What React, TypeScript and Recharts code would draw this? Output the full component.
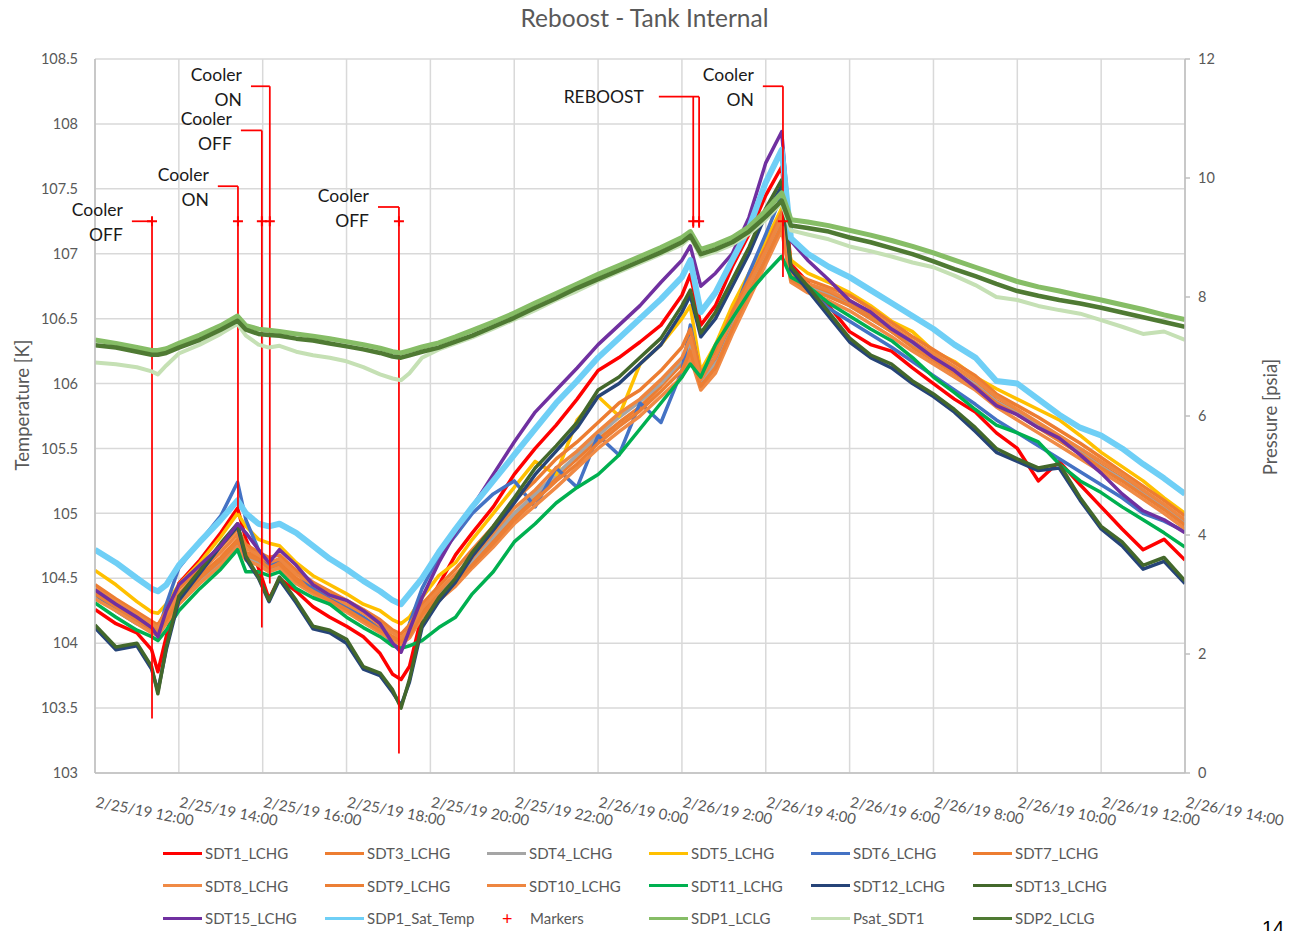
import React from "react";
import {
  ComposedChart,
  Line,
  Scatter,
  ErrorBar,
  XAxis,
  YAxis,
  CartesianGrid,
  ReferenceLine,
  ReferenceDot,
} from "recharts";

// hours after 2/25/19 12:00
const times = [
  0, 0.5, 1.0, 1.35, 1.5, 1.7, 2.0, 2.5,
  3.0, 3.4, 3.6, 3.9, 4.15, 4.4, 4.8, 5.2,
  5.6, 6.0, 6.4, 6.8, 7.1, 7.3, 7.5, 7.8,
  8.2, 8.6, 9.0, 9.5, 10.0, 10.5, 11.0, 11.5,
  12.0, 12.5, 13.0, 13.5, 14.0, 14.2, 14.45, 14.8,
  15.2, 15.6, 16.0, 16.38, 16.6, 17.0, 17.5, 18.0,
  18.5, 19.0, 19.5, 20.0, 20.5, 21.0, 21.5, 22.0,
  22.5, 23.0, 23.5, 24.0, 24.5, 25.0, 25.5, 26.0,
];

// temperatures [K]
const sdt1 = [
  104.26, 104.15, 104.08, 103.95, 103.78, 104.05, 104.46, 104.64,
  104.85, 105.04, 104.8, 104.58, 104.34, 104.5, 104.4, 104.28,
  104.2, 104.13, 104.05, 103.92, 103.76, 103.72, 103.82, 104.22,
  104.45, 104.68, 104.85, 105.05, 105.3, 105.5, 105.68, 105.88,
  106.1, 106.2, 106.32, 106.45, 106.68, 106.84, 106.45, 106.6,
  106.9, 107.15, 107.45, 107.67, 106.92, 106.78, 106.6, 106.4,
  106.3, 106.25, 106.12, 106.0, 105.88, 105.78, 105.62, 105.5,
  105.25, 105.4, 105.22, 105.05, 104.88, 104.72, 104.8, 104.64,
];
const sdt3 = [
  104.4, 104.3, 104.2, 104.13, 104.1, 104.2, 104.36, 104.52,
  104.66, 104.8, 104.7, 104.66, 104.6, 104.63, 104.5, 104.42,
  104.35, 104.28, 104.2, 104.12, 104.05, 104.02, 104.08, 104.25,
  104.38, 104.5, 104.62, 104.8, 104.98, 105.12, 105.28, 105.42,
  105.57, 105.7, 105.82, 105.98, 106.15, 106.3, 106.0, 106.15,
  106.45, 106.72, 107.0, 107.25, 106.82, 106.75, 106.7, 106.62,
  106.52, 106.42, 106.3, 106.2, 106.1, 106.0, 105.87, 105.78,
  105.68, 105.58, 105.48, 105.37, 105.27, 105.16, 105.05, 104.93,
];
const sdt4 = [
  104.36, 104.26, 104.16, 104.1, 104.08, 104.17, 104.32, 104.48,
  104.62, 104.76, 104.66, 104.62, 104.56, 104.6, 104.47, 104.39,
  104.31, 104.25, 104.17, 104.09, 104.03, 104.0, 104.05, 104.21,
  104.36, 104.5, 104.64, 104.82, 105.0, 105.15, 105.3, 105.45,
  105.6, 105.74, 105.86, 106.0, 106.18, 106.32, 106.02, 106.16,
  106.46, 106.74, 107.0, 107.26, 106.82, 106.74, 106.68, 106.6,
  106.5, 106.4, 106.3, 106.19, 106.09, 105.99, 105.86, 105.77,
  105.67, 105.57, 105.47, 105.36, 105.26, 105.15, 105.04, 104.92,
];
const sdt5 = [
  104.56, 104.45, 104.32, 104.24, 104.23, 104.3, 104.45, 104.62,
  104.82, 105.0, 104.9, 104.8, 104.77, 104.75, 104.62, 104.52,
  104.45, 104.38, 104.3, 104.25, 104.18, 104.15, 104.2, 104.35,
  104.52, 104.62, 104.8, 105.0, 105.2, 105.4, 105.3, 105.72,
  105.9, 105.75, 106.15, 106.3, 106.5, 106.6, 106.1, 106.3,
  106.6, 106.85, 107.1, 107.35, 106.95, 106.85, 106.78, 106.7,
  106.6, 106.48, 106.4, 106.25, 106.17, 106.05, 105.96, 105.88,
  105.8, 105.72, 105.6, 105.47, 105.36, 105.25, 105.12, 105.0,
];
const sdt6 = [
  104.38, 104.25, 104.15, 104.1, 104.08, 104.3, 104.58, 104.78,
  104.98, 105.24, 104.95, 104.72, 104.6, 104.65, 104.55, 104.42,
  104.35, 104.28, 104.2, 104.1, 104.0, 103.95, 104.15, 104.42,
  104.67, 104.83, 105.0, 105.15, 105.25, 105.05, 105.35, 105.2,
  105.6, 105.45, 105.85, 105.7, 106.1, 106.45, 106.05, 106.2,
  106.5, 106.85, 107.15, 107.45, 106.88, 106.72, 106.58, 106.48,
  106.38, 106.28, 106.17, 106.06, 105.95, 105.84, 105.72, 105.62,
  105.52, 105.42, 105.32, 105.22, 105.12, 105.0, 104.94, 104.86,
];
const sdt7 = [
  104.45, 104.34, 104.24, 104.17, 104.14, 104.25, 104.42, 104.58,
  104.74, 104.88, 104.76, 104.7, 104.66, 104.68, 104.56, 104.47,
  104.4, 104.33, 104.26, 104.18, 104.1, 104.07, 104.14, 104.3,
  104.44, 104.57, 104.72, 104.9, 105.1, 105.25, 105.42, 105.55,
  105.7, 105.85, 105.95, 106.1, 106.28, 106.42, 106.08, 106.25,
  106.55, 106.8, 107.05, 107.32, 106.86, 106.8, 106.74, 106.68,
  106.58, 106.47, 106.36, 106.26, 106.16, 106.06, 105.92, 105.83,
  105.74, 105.64, 105.54, 105.43, 105.32, 105.21, 105.1, 104.98,
];
const sdt8 = [
  104.34, 104.25, 104.15, 104.08, 104.06, 104.15, 104.3, 104.46,
  104.6, 104.74, 104.64, 104.6, 104.55, 104.58, 104.46, 104.38,
  104.3, 104.24, 104.16, 104.08, 104.02, 103.99, 104.04, 104.2,
  104.33, 104.44, 104.58, 104.74, 104.92, 105.06, 105.2, 105.35,
  105.5, 105.63, 105.75, 105.9, 106.05, 106.2, 105.95, 106.08,
  106.38, 106.65, 106.92, 107.18, 106.78, 106.7, 106.64, 106.56,
  106.46, 106.36, 106.25, 106.15, 106.05, 105.95, 105.82, 105.72,
  105.62, 105.52, 105.42, 105.32, 105.22, 105.11, 105.0, 104.88,
];
const sdt9 = [
  104.38, 104.28, 104.18, 104.11, 104.09, 104.18, 104.34, 104.5,
  104.64, 104.78, 104.68, 104.64, 104.58, 104.61, 104.48, 104.4,
  104.33, 104.26, 104.18, 104.1, 104.04, 104.01, 104.06, 104.22,
  104.36, 104.48, 104.6, 104.77, 104.95, 105.1, 105.25, 105.38,
  105.54, 105.67, 105.79, 105.94, 106.1, 106.25, 105.98, 106.12,
  106.42, 106.7, 106.96, 107.22, 106.8, 106.73, 106.67, 106.6,
  106.5, 106.4, 106.28, 106.18, 106.08, 105.98, 105.85, 105.76,
  105.66, 105.56, 105.46, 105.35, 105.25, 105.14, 105.03, 104.91,
];
const sdt10 = [
  104.42, 104.32, 104.22, 104.15, 104.12, 104.22, 104.38, 104.55,
  104.7, 104.84, 104.73, 104.68, 104.62, 104.65, 104.53, 104.45,
  104.37, 104.3, 104.23, 104.15, 104.08, 104.04, 104.1, 104.27,
  104.41, 104.53, 104.66, 104.85, 105.04, 105.18, 105.35, 105.48,
  105.63, 105.77, 105.88, 106.03, 106.2, 106.35, 106.03, 106.2,
  106.5, 106.76, 107.02, 107.28, 106.84, 106.77, 106.72, 106.64,
  106.55, 106.44, 106.33, 106.23, 106.13, 106.03, 105.9, 105.8,
  105.7, 105.6, 105.5, 105.4, 105.3, 105.18, 105.07, 104.95,
];
const sdt11 = [
  104.31, 104.2, 104.1, 104.05, 104.02, 104.1, 104.25, 104.42,
  104.57, 104.72, 104.55, 104.55, 104.52, 104.55, 104.42, 104.35,
  104.3, 104.2, 104.12, 104.05, 103.98, 103.96, 103.98, 104.02,
  104.12, 104.2, 104.38, 104.55, 104.78, 104.92, 105.08, 105.2,
  105.3, 105.45, 105.65, 105.85, 106.05, 106.15, 106.05, 106.3,
  106.5, 106.7, 106.85, 106.98, 106.82, 106.75, 106.62, 106.52,
  106.42, 106.33, 106.2, 106.05, 105.93, 105.8, 105.68, 105.62,
  105.55, 105.38, 105.25, 105.16, 105.05, 104.95, 104.85, 104.74,
];
const sdt12 = [
  104.12, 103.95, 103.98, 103.8, 103.63, 103.95, 104.33, 104.54,
  104.75, 104.9, 104.65, 104.5, 104.32, 104.49, 104.31, 104.11,
  104.08, 104.0, 103.8, 103.75, 103.62, 103.52, 103.7, 104.12,
  104.32, 104.47, 104.67, 104.87, 105.08, 105.3, 105.48, 105.66,
  105.9, 106.0, 106.15, 106.3, 106.55, 106.68, 106.36, 106.5,
  106.75, 107.0, 107.3, 107.52, 106.88, 106.72, 106.52, 106.32,
  106.2, 106.12, 106.0, 105.9, 105.78, 105.63, 105.47, 105.4,
  105.33, 105.35, 105.1, 104.88, 104.75, 104.57, 104.63, 104.46,
];
const sdt13 = [
  104.14, 103.97, 104.0, 103.82, 103.61, 103.97, 104.36, 104.56,
  104.77, 104.92, 104.67, 104.51, 104.33, 104.51, 104.33, 104.13,
  104.1, 104.03, 103.82, 103.77, 103.64, 103.5, 103.72, 104.15,
  104.35, 104.5, 104.7, 104.9, 105.12, 105.35, 105.52, 105.7,
  105.95, 106.05, 106.2, 106.35, 106.6, 106.72, 106.39, 106.55,
  106.8, 107.05, 107.35, 107.57, 106.9, 106.75, 106.55, 106.35,
  106.22, 106.15, 106.02, 105.92, 105.8, 105.66, 105.5, 105.42,
  105.35, 105.38, 105.12, 104.9, 104.78, 104.6, 104.66, 104.48,
];
const sdt15 = [
  104.41, 104.3, 104.2, 104.12, 104.05, 104.25, 104.45, 104.6,
  104.75, 104.92, 104.85, 104.72, 104.62, 104.72, 104.6, 104.45,
  104.37, 104.33, 104.25, 104.15, 104.0, 103.93, 104.1, 104.35,
  104.62, 104.85, 105.05, 105.3, 105.55, 105.78, 105.95, 106.12,
  106.3, 106.45, 106.6, 106.78, 106.95, 107.06, 106.75, 106.85,
  107.0, 107.28, 107.7, 107.94, 107.1, 106.95, 106.8, 106.64,
  106.55, 106.42, 106.32, 106.2, 106.1, 105.97, 105.83, 105.76,
  105.66, 105.58, 105.45, 105.31, 105.15, 105.02, 104.95, 104.85,
];
const sdp1SatTemp = [
  104.72, 104.62, 104.5, 104.42, 104.4, 104.45, 104.6, 104.78,
  104.95, 105.1, 105.0, 104.92, 104.9, 104.92, 104.85, 104.75,
  104.65, 104.57, 104.48, 104.4, 104.33, 104.3, 104.38, 104.5,
  104.7, 104.88, 105.05, 105.25, 105.45, 105.65, 105.85, 106.02,
  106.2, 106.35, 106.5, 106.65, 106.82, 106.95, 106.55, 106.7,
  106.95, 107.2, 107.55, 107.8, 107.12, 107.0, 106.9, 106.82,
  106.72, 106.62, 106.52, 106.42, 106.3, 106.2, 106.02, 106.0,
  105.88, 105.76, 105.66, 105.6, 105.5, 105.38, 105.27, 105.15,
];

// pressures [psia]
const sdp1Lclg = [
  7.28, 7.22, 7.15, 7.1, 7.1, 7.13, 7.22, 7.36,
  7.52, 7.68, 7.52, 7.46, 7.44, 7.42, 7.38, 7.34,
  7.3, 7.25, 7.2, 7.14, 7.08, 7.06, 7.1, 7.16,
  7.23, 7.33, 7.44, 7.58, 7.73, 7.9, 8.06, 8.22,
  8.38, 8.53, 8.68, 8.83, 9.0, 9.1, 8.8, 8.88,
  9.0, 9.18, 9.45, 9.75, 9.3, 9.26, 9.2, 9.12,
  9.04, 8.95, 8.85, 8.74, 8.62, 8.5, 8.38, 8.26,
  8.17, 8.1, 8.02, 7.95, 7.87, 7.79, 7.7, 7.62,
];
const psatSdt1 = [
  6.9, 6.87, 6.82, 6.75, 6.7, 6.85, 7.05, 7.2,
  7.38, 7.55, 7.35, 7.2, 7.15, 7.18, 7.08, 7.02,
  6.98, 6.92, 6.82, 6.7, 6.63, 6.6, 6.72, 6.98,
  7.12, 7.22, 7.32, 7.47, 7.62, 7.78, 7.95, 8.1,
  8.27, 8.42, 8.57, 8.72, 8.88, 9.0, 8.68, 8.76,
  8.88, 9.06, 9.3, 9.58, 9.12, 9.05, 8.97, 8.85,
  8.77, 8.68, 8.58, 8.5, 8.36, 8.2, 8.0, 7.95,
  7.85, 7.78, 7.72, 7.61, 7.5, 7.38, 7.42, 7.28,
];
const sdp2Lclg = [
  7.19, 7.15, 7.08, 7.03, 7.03, 7.06, 7.15, 7.28,
  7.45, 7.6, 7.45, 7.38, 7.36, 7.35, 7.3, 7.27,
  7.22, 7.17, 7.12, 7.06, 7.0, 6.98, 7.02, 7.08,
  7.15, 7.25, 7.35, 7.5, 7.65, 7.82, 7.98, 8.15,
  8.3, 8.45, 8.6, 8.75, 8.92, 9.03, 8.72, 8.8,
  8.92, 9.1, 9.35, 9.62, 9.2, 9.16, 9.1, 9.0,
  8.92, 8.82, 8.72, 8.6, 8.47, 8.35, 8.22, 8.1,
  8.02, 7.95, 7.89, 7.82, 7.74, 7.66, 7.58, 7.5,
];

// event markers
const markerTimes = [1.36, 3.41, 3.98, 4.17, 7.25, 14.27, 14.41, 16.41];
const markerLevel = 107.25;
const markerLows = [103.42, 105.0, 104.12, 104.46, 103.15, 107.2, 107.2, 106.82];
const markerTops = [107.25, 107.52, 107.95, 108.29, 107.36, 108.21, 108.21, 108.29];

const noteTimes = [1.36, 3.41, 3.98, 4.17, 7.25, 14.41, 16.41];
const noteStarts = [0.88, 2.93, 3.48, 3.72, 6.75, 13.45, 15.93];
const noteLevels = [107.25, 107.52, 107.95, 108.29, 107.36, 108.21, 108.29];
const noteTexts = [
  ["Cooler", "OFF"],
  ["Cooler", "ON"],
  ["Cooler", "OFF"],
  ["Cooler", "ON"],
  ["Cooler", "OFF"],
  ["REBOOST"],
  ["Cooler", "ON"],
];

const timeTicks = [0, 2, 4, 6, 8, 10, 12, 14, 16, 18, 20, 22, 24, 26];
const timeLabels = [
  "2/25/19 12:00", "2/25/19 14:00", "2/25/19 16:00", "2/25/19 18:00",
  "2/25/19 20:00", "2/25/19 22:00", "2/26/19 0:00", "2/26/19 2:00",
  "2/26/19 4:00", "2/26/19 6:00", "2/26/19 8:00", "2/26/19 10:00",
  "2/26/19 12:00", "2/26/19 14:00",
];
const tempTicks = [103, 103.5, 104, 104.5, 105, 105.5, 106, 106.5, 107, 107.5, 108, 108.5];
const pressureTicks = [0, 2, 4, 6, 8, 10, 12];

const series = [
  { key: "SDT1_LCHG", values: sdt1, axis: "left" },
  { key: "SDT3_LCHG", values: sdt3, axis: "left" },
  { key: "SDT4_LCHG", values: sdt4, axis: "left" },
  { key: "SDT5_LCHG", values: sdt5, axis: "left" },
  { key: "SDT6_LCHG", values: sdt6, axis: "left" },
  { key: "SDT7_LCHG", values: sdt7, axis: "left" },
  { key: "SDT8_LCHG", values: sdt8, axis: "left" },
  { key: "SDT9_LCHG", values: sdt9, axis: "left" },
  { key: "SDT10_LCHG", values: sdt10, axis: "left" },
  { key: "SDT11_LCHG", values: sdt11, axis: "left" },
  { key: "SDT12_LCHG", values: sdt12, axis: "left" },
  { key: "SDT13_LCHG", values: sdt13, axis: "left" },
  { key: "SDT15_LCHG", values: sdt15, axis: "left" },
  { key: "SDP1_Sat_Temp", values: sdp1SatTemp, axis: "left" },
  { key: "SDP1_LCLG", values: sdp1Lclg, axis: "right" },
  { key: "Psat_SDT1", values: psatSdt1, axis: "right" },
  { key: "SDP2_LCLG", values: sdp2Lclg, axis: "right" },
];

const lineStyle: Record<string, { color: string; width: number }> = {
  SDT1_LCHG: { color: "#ff0000", width: 3.5 },
  SDT3_LCHG: { color: "#ed7d31", width: 3.5 },
  SDT4_LCHG: { color: "#a5a5a5", width: 3.5 },
  SDT5_LCHG: { color: "#ffc000", width: 3.5 },
  SDT6_LCHG: { color: "#4472c4", width: 3.5 },
  SDT7_LCHG: { color: "#ed7d31", width: 3.5 },
  SDT8_LCHG: { color: "#f08a45", width: 3.5 },
  SDT9_LCHG: { color: "#ec7f35", width: 3.5 },
  SDT10_LCHG: { color: "#ee8640", width: 3.5 },
  SDT11_LCHG: { color: "#00b050", width: 3.5 },
  SDT12_LCHG: { color: "#264478", width: 3.5 },
  SDT13_LCHG: { color: "#43682b", width: 3.5 },
  SDT15_LCHG: { color: "#7030a0", width: 3.5 },
  SDP1_Sat_Temp: { color: "#6fcff6", width: 6 },
  SDP1_LCLG: { color: "#86bd66", width: 5 },
  Psat_SDT1: { color: "#c5e0b4", width: 4 },
  SDP2_LCLG: { color: "#4f7a33", width: 4.5 },
};

const legendRows = [
  ["SDT1_LCHG", "SDT3_LCHG", "SDT4_LCHG", "SDT5_LCHG", "SDT6_LCHG", "SDT7_LCHG"],
  ["SDT8_LCHG", "SDT9_LCHG", "SDT10_LCHG", "SDT11_LCHG", "SDT12_LCHG", "SDT13_LCHG"],
  ["SDT15_LCHG", "SDP1_Sat_Temp", "Markers", "SDP1_LCLG", "Psat_SDT1", "SDP2_LCLG"],
];

const rows = times.map((t, i) => {
  const row: Record<string, number> = { t };
  series.forEach((s) => {
    row[s.key] = s.values[i];
  });
  return row;
});

const markerRows = markerTimes.map((t, i) => ({
  t,
  v: markerLevel,
  err: [markerLevel - markerLows[i], markerTops[i] - markerLevel],
}));

const FONT = "Lato, 'Open Sans', 'DejaVu Sans', sans-serif";
const GREY_TEXT = "#595959";
const RED = "#ff0000";

const TimeTick = (props: any) => {
  const { x, y, payload } = props;
  const idx = timeTicks.indexOf(payload.value);
  return (
    <text
      transform={`translate(${x},${y + 26}) rotate(11)`}
      textAnchor="start"
      fill={GREY_TEXT}
      fontSize={15}
      fontFamily={FONT}
    >
      {timeLabels[idx]}
    </text>
  );
};

const Plus = (props: any) => {
  const { cx, cy } = props;
  return (
    <path
      d={`M${cx - 5},${cy}H${cx + 5}M${cx},${cy - 5}V${cy + 5}`}
      stroke={RED}
      strokeWidth={2}
      fill="none"
    />
  );
};

const noteShape = (lines: string[]) => (props: any) => {
  const { cx, cy } = props;
  if (lines.length === 1) {
    return (
      <text x={cx - 15} y={cy + 6} textAnchor="end" fontSize={17.5} fill="#1a1a1a" fontFamily={FONT}>
        {lines[0]}
      </text>
    );
  }
  return (
    <g>
      <text x={cx - 9} y={cy - 5} textAnchor="end" fontSize={17.5} fill="#1a1a1a" fontFamily={FONT}>
        {lines[0]}
      </text>
      <text x={cx - 9} y={cy + 20} textAnchor="end" fontSize={17.5} fill="#1a1a1a" fontFamily={FONT}>
        {lines[1]}
      </text>
    </g>
  );
};

const LegendItem = ({ name, left, top }: { name: string; left: number; top: number }) => {
  if (name === "Markers") {
    return (
      <div style={{ position: "absolute", left, top, height: 18, display: "flex", alignItems: "center" }}>
        <span style={{ color: RED, fontSize: 18, width: 43, paddingLeft: 15, boxSizing: "border-box", lineHeight: "18px" }}>+</span>
        <span style={{ fontSize: 15, color: GREY_TEXT }}>{name}</span>
      </div>
    );
  }
  const st = lineStyle[name];
  return (
    <div style={{ position: "absolute", left, top, height: 18, display: "flex", alignItems: "center" }}>
      <span style={{ width: 39, height: 3, background: st.color, marginRight: 3 }} />
      <span style={{ fontSize: 15, color: GREY_TEXT }}>{name}</span>
    </div>
  );
};

export default function App() {
  return (
    <div
      style={{
        position: "absolute",
        left: 0,
        top: 0,
        width: 1300,
        height: 931,
        background: "#fff",
        fontFamily: FONT,
        overflow: "hidden",
      }}
    >
      <div
        style={{
          position: "absolute",
          left: 0,
          top: 5,
          width: 1289,
          textAlign: "center",
          fontSize: 24.5,
          lineHeight: "26px",
          color: GREY_TEXT,
        }}
      >
        Reboost - Tank Internal
      </div>

      <ComposedChart
        width={1300}
        height={931}
        data={rows}
        margin={{ top: 59, right: 60, bottom: 118, left: 35 }}
        style={{ position: "absolute", left: 0, top: 0, fontFamily: FONT }}
      >
        <CartesianGrid yAxisId="left" stroke="#d9d9d9" strokeWidth={1.5} />
        <XAxis
          dataKey="t"
          type="number"
          domain={[0, 26]}
          ticks={timeTicks}
          interval={0}
          allowDataOverflow
          height={40}
          tickLine={false}
          axisLine={{ stroke: "#bfbfbf", strokeWidth: 1.5 }}
          tick={<TimeTick />}
        />
        <YAxis
          yAxisId="left"
          domain={[103, 108.5]}
          ticks={tempTicks}
          interval={0}
          allowDataOverflow
          width={60}
          tickLine={false}
          tickSize={0}
          tickMargin={17}
          axisLine={{ stroke: "#bfbfbf", strokeWidth: 1.5 }}
          tick={{ fill: GREY_TEXT, fontSize: 14.5 }}
        />
        <YAxis
          yAxisId="right"
          orientation="right"
          domain={[0, 12]}
          ticks={pressureTicks}
          interval={0}
          allowDataOverflow
          width={55}
          tickSize={5}
          tickMargin={8}
          tickLine={{ stroke: "#bfbfbf", strokeWidth: 1.5 }}
          axisLine={{ stroke: "#bfbfbf", strokeWidth: 1.5 }}
          tick={{ fill: GREY_TEXT, fontSize: 14.5, textAnchor: "start" }}
        />

        {series
          .filter((s) => s.axis === "left")
          .map((s) => (
            <Line
              key={s.key}
              yAxisId="left"
              dataKey={s.key}
              type="linear"
              stroke={lineStyle[s.key].color}
              strokeWidth={lineStyle[s.key].width}
              strokeLinejoin="round"
              dot={false}
              isAnimationActive={false}
            />
          ))}

        {noteTimes.map((t, i) => (
          <ReferenceLine
            key={`lead-${i}`}
            yAxisId="left"
            segment={[
              { x: noteStarts[i], y: noteLevels[i] },
              { x: t, y: noteLevels[i] },
            ]}
            stroke={RED}
            strokeWidth={1.75}
          />
        ))}

        <Scatter
          yAxisId="left"
          data={markerRows}
          dataKey="v"
          shape={<Plus />}
          isAnimationActive={false}
        >
          <ErrorBar dataKey="err" direction="y" width={0} stroke={RED} strokeWidth={1.75} />
        </Scatter>

        {series
          .filter((s) => s.axis === "right")
          .map((s) => (
            <Line
              key={s.key}
              yAxisId="right"
              dataKey={s.key}
              type="linear"
              stroke={lineStyle[s.key].color}
              strokeWidth={lineStyle[s.key].width}
              strokeLinejoin="round"
              dot={false}
              isAnimationActive={false}
            />
          ))}

        {noteTimes.map((t, i) => (
          <ReferenceDot
            key={`note-${i}`}
            yAxisId="left"
            x={noteStarts[i]}
            y={noteLevels[i]}
            r={0}
            shape={noteShape(noteTexts[i])}
          />
        ))}
      </ComposedChart>

      <div
        style={{
          position: "absolute",
          left: 22,
          top: 405,
          transform: "translate(-50%, -50%) rotate(-90deg)",
          fontSize: 18.5,
          color: GREY_TEXT,
          whiteSpace: "nowrap",
        }}
      >
        Temperature [K]
      </div>
      <div
        style={{
          position: "absolute",
          left: 1270,
          top: 417,
          transform: "translate(-50%, -50%) rotate(-90deg)",
          fontSize: 18.5,
          color: GREY_TEXT,
          whiteSpace: "nowrap",
        }}
      >
        Pressure [psia]
      </div>

      {legendRows.map((row, r) =>
        row.map((name, c) => (
          <LegendItem key={name} name={name} left={163 + c * 162} top={844 + r * 32.5} />
        ))
      )}

      <div style={{ position: "absolute", left: 1262, top: 918, fontSize: 20, lineHeight: "20px", color: "#000", fontFamily: "'Liberation Sans', Arial, sans-serif" }}>
        14
      </div>
    </div>
  );
}
